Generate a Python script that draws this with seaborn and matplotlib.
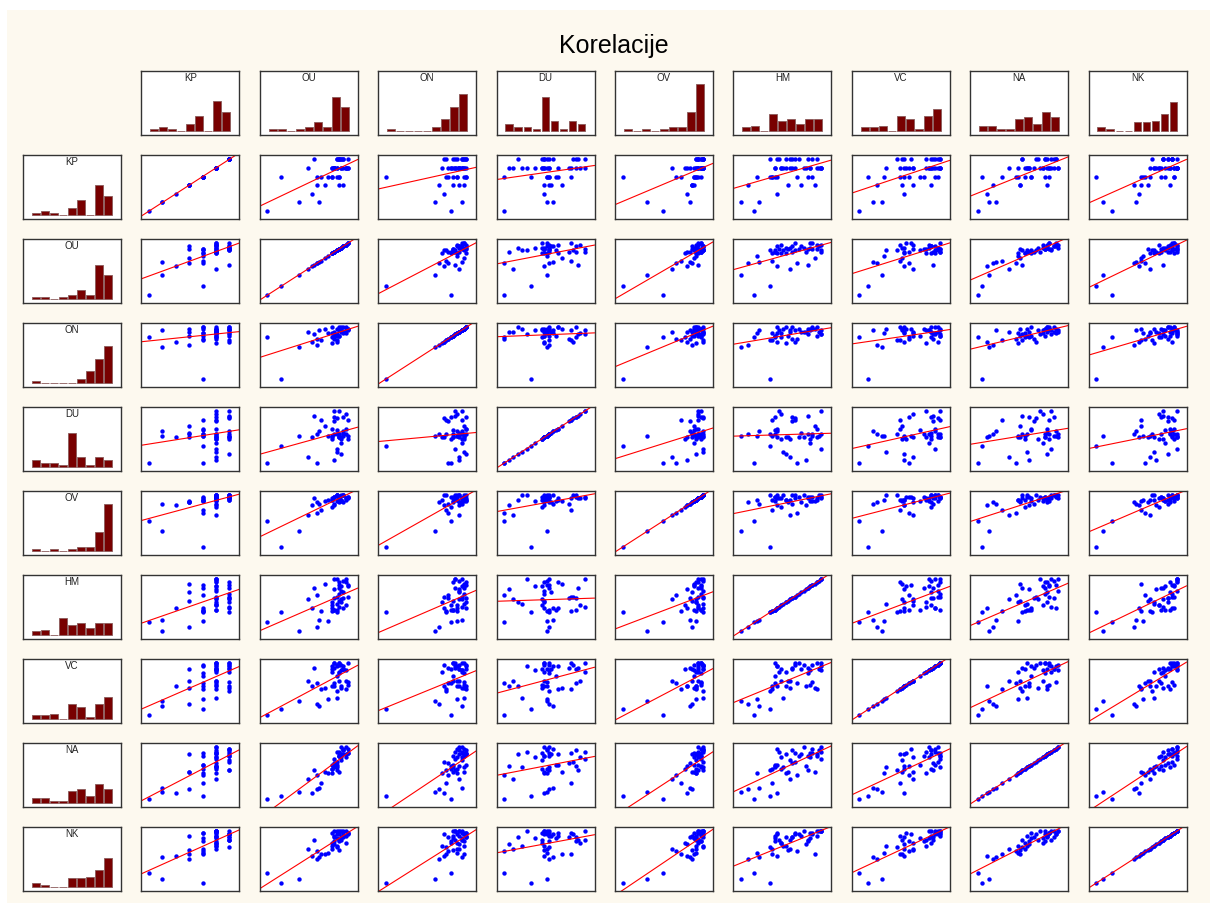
import matplotlib
matplotlib.use("Agg")
import matplotlib.pyplot as plt
from matplotlib.patches import Rectangle
import seaborn as sns
import pandas as pd
import numpy as np

# scale scores of 46 respondents (0-36)
names = ["KP", "OU", "ON", "DU", "OV", "HM", "VC", "NA", "NK"]

KP = [0, 6, 24, 12, 30, 18, 36, 24, 30, 6, 24, 30, 18, 30, 36, 24, 30, 24, 18, 30, 36, 30, 24,
      30, 36, 30, 18, 30, 24, 36, 30, 30, 36, 24, 30, 36, 30, 24, 36, 30, 30, 36, 30, 36, 30, 36]
OU = [0, 14, 6, 20, 18, 22, 21, 24, 29, 23, 22, 30, 26, 29, 31, 27, 30, 29, 32, 30, 31, 33, 29,
      30, 32, 31, 34, 30, 32, 33, 31, 35, 32, 31, 34, 33, 36, 32, 34, 35, 33, 32, 36, 34, 35, 36]
ON = [29, 22, 0, 26, 33, 24, 31, 27, 25, 34, 28, 30, 35, 29, 26, 32, 33, 36, 30, 31, 27, 34, 32,
      28, 30, 35, 33, 29, 36, 34, 31, 32, 35, 30, 33, 36, 34, 35, 32, 36, 33, 34, 35, 36, 34, 35]
DU = [0, 19, 12, 18, 4, 20, 33, 30, 18, 22, 0, 20, 26, 17, 31, 19, 2, 24, 18, 36, 20, 14, 19,
      29, 18, 8, 21, 32, 20, 17, 10, 34, 18, 23, 19, 6, 30, 20, 22, 24, 18, 36, 17, 32, 20, 19]
OV = [18, 11, 0, 29, 22, 31, 34, 26, 33, 30, 24, 35, 32, 28, 36, 33, 29, 34, 31, 35, 36, 32, 33,
      30, 34, 36, 31, 35, 32, 33, 36, 34, 35, 32, 36, 33, 34, 35, 36, 33, 36, 34, 35, 36, 34, 35]
HM = [6, 0, 13, 16, 22, 3, 30, 14, 20, 8, 25, 15, 33, 18, 24, 7, 29, 16, 21, 36, 13, 31, 14,
      23, 34, 19, 27, 15, 32, 22, 36, 18, 26, 15, 35, 20, 24, 30, 16, 34, 28, 17, 31, 23, 36, 32]
VC = [0, 10, 4, 20, 24, 8, 33, 18, 30, 6, 22, 36, 19, 32, 35, 11, 20, 34, 24, 36, 17, 31, 20,
      33, 36, 12, 32, 22, 35, 19, 34, 24, 36, 27, 32, 20, 36, 29, 34, 18, 35, 30, 21, 32, 31, 23]
NA = [0, 5, 2, 4, 14, 7, 20, 11, 18, 8, 17, 22, 19, 21, 26, 18, 23, 24, 19, 28, 20, 29, 21,
      25, 30, 22, 31, 23, 32, 27, 33, 29, 30, 24, 34, 31, 32, 30, 35, 31, 36, 33, 32, 34, 36, 35]
NK = [7, 3, 0, 19, 24, 17, 30, 20, 26, 18, 22, 33, 20, 28, 34, 21, 27, 35, 23, 36, 25, 31, 24,
      32, 36, 26, 33, 29, 35, 30, 36, 28, 34, 31, 36, 32, 35, 29, 34, 33, 36, 30, 35, 32, 36, 34]

data_df = pd.DataFrame({"KP": KP, "OU": OU, "ON": ON, "DU": DU, "OV": OV,
                        "HM": HM, "VC": VC, "NA": NA, "NK": NK})

cream = "#fdf9ef"
bar_color = "#780000"

sns.set_theme(style="white")
plt.rcParams["font.family"] = ["Liberation Sans", "DejaVu Sans"]

fig = plt.figure(figsize=(12.1, 9.04), dpi=100)
fig.patch.set_facecolor("white")
fig.add_artist(Rectangle((7 / 1210, 0), 1, 1 - 11 / 904, transform=fig.transFigure,
                         facecolor=cream, edgecolor="none", zorder=-10))
fig.text(0.507, 0.949, "Korelacije", ha="center", va="center", fontsize=18, color="black")

# cell geometry in pixels
W, H = 1210, 904
col_x = 23
col_step = 118.4
cell_w = 98
row_y = 72
row_step = 84
cell_h = 64


def make_ax(r, c):
    left = (col_x + c * col_step) / W
    bottom = 1 - (row_y + r * row_step + cell_h) / H
    ax = fig.add_axes([left, bottom, cell_w / W, cell_h / H])
    ax.set_facecolor("white")
    for s in ax.spines.values():
        s.set_color("#333333")
        s.set_linewidth(1.0)
    return ax


def draw_hist(ax, name):
    vals = data_df[name]
    lo, hi = vals.min(), vals.max()
    rng = hi - lo
    edges = np.linspace(lo, hi, 10)
    edges[1:-1] += 1e-6  # right-closed bins
    sns.histplot(x=vals, bins=edges, ax=ax, color=bar_color, alpha=1,
                 edgecolor="#8a5a5a", linewidth=0.6, shrink=0.88)
    ax.set_xlim(lo - 0.103 * rng, hi + 0.106 * rng)
    ax.set_ylim(-2.6, 35.8)
    ax.set(xlabel="", ylabel="", xticks=[], yticks=[])
    ax.text(0.5, 0.985, name, transform=ax.transAxes, ha="center", va="top",
            fontsize=7, color="#222222")


def draw_scatter(ax, xname, yname):
    x = data_df[xname]
    y = data_df[yname]
    xr = x.max() - x.min()
    yr = y.max() - y.min()
    ax.set_xlim(x.min() - 0.095 * xr, x.max() + 0.125 * xr)
    ax.set_ylim(y.min() - 0.153 * yr, y.max() + 0.083 * yr)
    sns.regplot(x=x, y=y, ax=ax, ci=None, truncate=False,
                scatter_kws={"s": 10, "color": "blue", "linewidths": 0, "alpha": 1},
                line_kws={"color": "red", "lw": 0.8})
    ax.set_xlim(x.min() - 0.095 * xr, x.max() + 0.125 * xr)
    ax.set_ylim(y.min() - 0.153 * yr, y.max() + 0.083 * yr)
    ax.set(xlabel="", ylabel="", xticks=[], yticks=[])


# top row histograms
for j, name in enumerate(names):
    draw_hist(make_ax(0, j + 1), name)

# left column histograms + scatter grid
for i, yname in enumerate(names):
    draw_hist(make_ax(i + 1, 0), yname)
    for j, xname in enumerate(names):
        draw_scatter(make_ax(i + 1, j + 1), xname, yname)

plt.savefig("out.png", dpi=100, facecolor=fig.get_facecolor())
